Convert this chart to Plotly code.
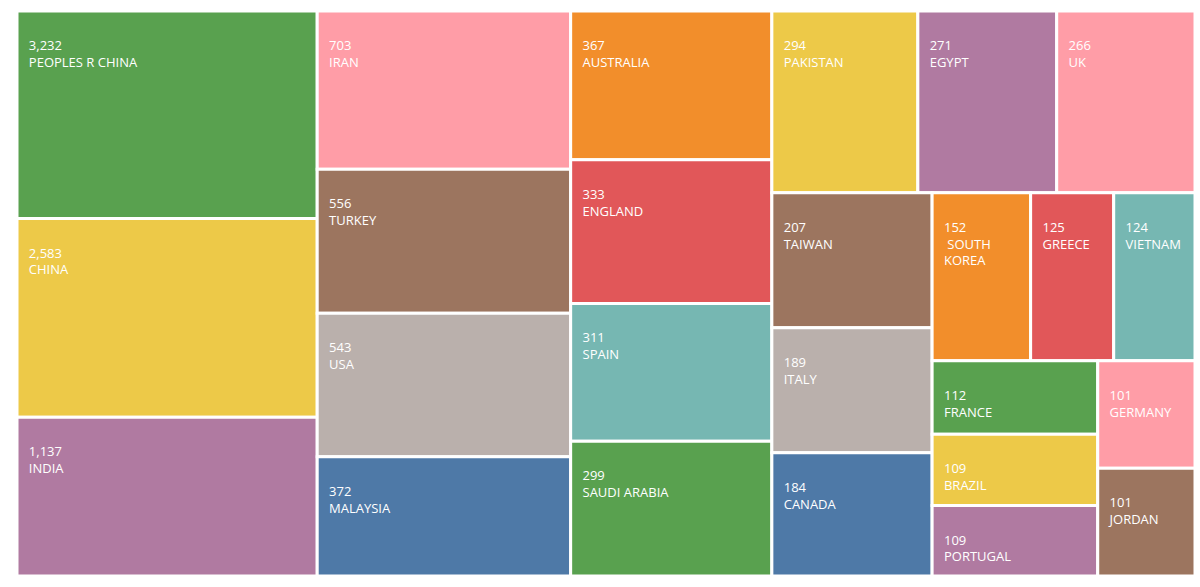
import plotly.graph_objects as go

countries = ["PEOPLES R CHINA", "CHINA", "INDIA", "IRAN", "TURKEY", "USA", "MALAYSIA",
             "AUSTRALIA", "ENGLAND", "SPAIN", "SAUDI ARABIA", "PAKISTAN", "EGYPT", "UK",
             "TAIWAN", "ITALY", "CANADA", "SOUTH KOREA", "GREECE", "VIETNAM", "FRANCE",
             "BRAZIL", "PORTUGAL", "GERMANY", "JORDAN"]
counts = [3232, 2583, 1137, 703, 556, 543, 372, 367, 333, 311, 299, 294, 271, 266,
          207, 189, 184, 152, 125, 124, 112, 109, 109, 101, 101]
# relative tile areas (the tiles are not
# proportional to the displayed counts)
tile_area = [62500, 59800, 47800, 40200, 36600, 36500, 30300, 30000, 29000, 27800,
             27200, 26600, 25300, 25200, 21700, 20100, 19800, 16600, 14000, 13700,
             12200, 11850, 11700, 10500, 10500]

palette = ["#59A14F", "#EDC948", "#B07AA1", "#FF9DA7", "#9C755F",
           "#BAB0AC", "#4E79A7", "#F28E2B", "#E15759", "#76B7B2"]
colors = [palette[i % len(palette)] for i in range(len(countries))]

indent = "<span style='font-size:34px'>\u00a0</span>"
display = [c.replace("SOUTH KOREA", "\u00a0SOUTH<br>KOREA") for c in countries]
display = [indent + d.replace("<br>", "<br>" + indent) for d in display]
numtext = [indent + f"{v:,}" for v in counts]

fig = go.Figure(go.Treemap(
    labels=countries,
    parents=[""] * len(countries),
    values=tile_area,
    customdata=list(zip(numtext, display)),
    marker=dict(colors=colors, line=dict(color="white", width=3),
                pad=dict(t=0, l=0, r=0, b=0)),
    texttemplate="%{customdata[0]}<br>%{customdata[1]}",
    textposition="top left",
    textfont=dict(family="Open Sans", size=13, color="white"),
    tiling=dict(squarifyratio=1.618034, pad=0),
    sort=True,
    pathbar=dict(visible=False),
    hoverinfo="label",
))
fig.update_layout(
    width=1200, height=587,
    margin=dict(l=17, r=5, t=11, b=11),
    paper_bgcolor="white",
    uniformtext=dict(minsize=13, mode="show"),
)
fig.write_html("out.html", config={"displayModeBar": False},
               post_script="document.body.style.margin='0';document.body.style.overflow='hidden';")
